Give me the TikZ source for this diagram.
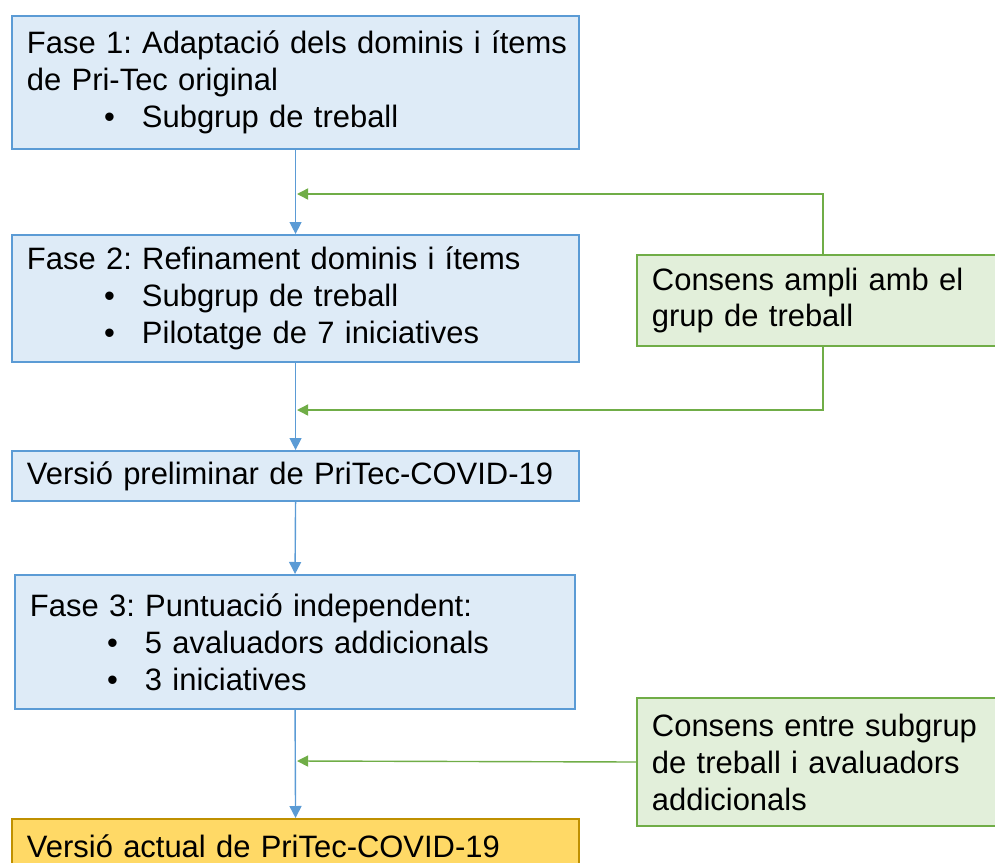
\documentclass[tikz,border=0pt]{standalone}
\usepackage{fontspec}
\setmainfont{Liberation Sans}
\usetikzlibrary{arrows.meta, positioning}
\definecolor{blueline}{HTML}{5B9BD5}
\definecolor{bluefill}{HTML}{DEEBF7}
\definecolor{greenline}{HTML}{70AD47}
\definecolor{greenfill}{HTML}{E2EFDA}
\definecolor{goldline}{HTML}{BF9000}
\definecolor{goldfill}{HTML}{FFD966}
\setlength{\parindent}{0pt}
\frenchspacing
\newcommand{\itm}[1]{\hspace*{1.925cm}\makebox[0.95cm][l]{\textbullet}#1}

\tikzset{
  box/.style={draw, line width=1.4pt, anchor=north west, align=left,
    inner xsep=0.375cm, inner ysep=0pt,
    font=\fontsize{22}{26.3}\selectfont\frenchspacing},
  bluebox/.style={box, draw=blueline, fill=bluefill},
  greenbox/.style={box, draw=greenline, fill=greenfill},
  goldbox/.style={box, draw=goldline, fill=goldfill},
  bluearr/.style={blueline, line width=1pt, -{Triangle[width=0.3cm, length=0.3cm]}},
  greenarr/.style={greenline, line width=1pt, -{Triangle[width=0.28cm, length=0.28cm]}}
}

\begin{document}
\begin{tikzpicture}[x=0.025cm, y=-0.025cm]
  \useasboundingbox (0,0) rectangle (995,863);
  % main steps
  \node[bluebox, text width=13.425cm, minimum height=3.325cm] (fase1) at (11,15)
    {\mbox{Fase 1: Adaptació dels dominis i ítems}\\de Pri-Tec original\\\itm{Subgrup de treball}};
  \node[bluebox, text width=13.425cm, minimum height=3.175cm] (fase2) at (11,234)
    {Fase 2: Refinament dominis i ítems\\\itm{Subgrup de treball}\\\itm{Pilotatge de 7 iniciatives}};
  \node[bluebox, text width=13.425cm, minimum height=1.25cm] (prelim) at (11,450)
    {Versió preliminar de PriTec-COVID-19};
  \node[bluebox, text width=13.25cm, minimum height=3.35cm] (fase3) at (14,574)
    {Fase 3: Puntuació independent:\\\itm{5 avaluadors addicionals}\\\itm{3 iniciatives}};
  \node[goldbox, text width=13.425cm, minimum height=1.35cm] (actual) at (11,818)
    {Versió actual de PriTec-COVID-19};
  % consensus boxes
  \node[greenbox, text width=8.55cm, minimum height=2.275cm] (consens1) at (636,254)
    {Consens ampli amb el\\grup de treball};
  \node[greenbox, text width=8.55cm, minimum height=3.2cm] (consens2) at (636,697)
    {Consens entre subgrup\\de treball i avaluadors\\addicionals};
  \coordinate (j1) at (297,194);
  \coordinate (j2) at (297,410);
  \coordinate (j3) at (297,761);
  % arrows
  \draw[bluearr] (fase1.south) -- (fase2.north);
  \draw[bluearr] (fase2.south) -- (prelim.north);
  \draw[bluearr] (prelim.south) -- (fase3.north);
  \draw[bluearr] (fase3.south) -- (actual.north);
  \draw[greenarr] (consens1.north) |- (j1);
  \draw[greenarr] (consens1.south) |- (j2);
  \draw[greenarr] (consens2.west) -- (j3);
\end{tikzpicture}
\end{document}
